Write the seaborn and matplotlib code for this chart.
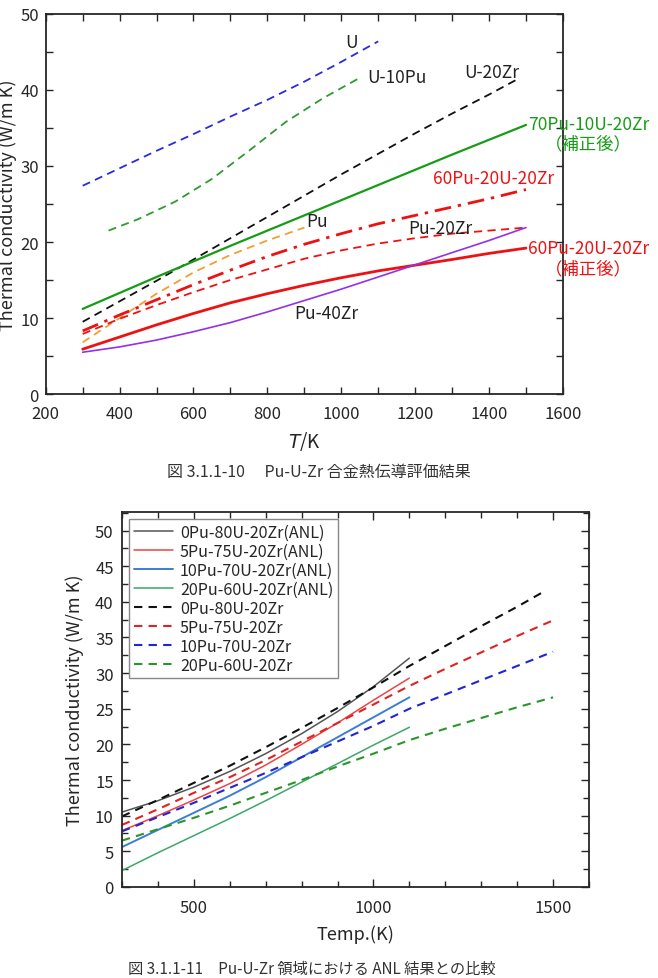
import matplotlib
matplotlib.use("Agg")
import matplotlib.pyplot as plt
import seaborn as sns
from matplotlib.ticker import MultipleLocator

# ---- upper chart: Pu-U-Zr alloy thermal conductivity (W/m K) vs T (K)
T_U = [300, 400, 500, 600, 700, 800, 900, 1000, 1100]
k_U = [27.4, 29.7, 32.0, 34.2, 36.5, 38.7, 41.1, 43.7, 46.4]

T_U10Pu = [370, 450, 550, 650, 750, 850, 950, 1050]
k_U10Pu = [21.5, 23.0, 25.3, 28.3, 32.0, 35.8, 38.9, 41.6]

T_U20Zr = [300, 400, 500, 600, 700, 800, 900, 1000, 1100, 1200, 1300, 1400, 1480]
k_U20Zr = [9.5, 12.2, 14.9, 17.7, 20.5, 23.3, 26.1, 28.9, 31.6, 34.3, 36.9, 39.4, 41.5]

T_70Pu = [300, 500, 700, 900, 1100, 1300, 1500]
k_70Pu = [11.2, 15.4, 19.5, 23.5, 27.5, 31.5, 35.4]

T_Pu = [300, 400, 500, 600, 700, 800, 900]
k_Pu = [6.8, 10.0, 13.2, 16.0, 18.3, 20.2, 21.9]

T_full = [300, 400, 500, 600, 700, 800, 900, 1000, 1100, 1200, 1300, 1400, 1500]
k_60Pu = [8.3, 10.4, 12.4, 14.4, 16.3, 18.1, 19.7, 21.1, 22.4, 23.5, 24.6, 25.7, 26.9]
k_Pu20Zr = [7.9, 9.9, 11.7, 13.4, 15.0, 16.4, 17.8, 18.9, 19.8, 20.5, 21.1, 21.5, 21.9]
k_60Pu_corr = [5.9, 7.5, 9.1, 10.6, 12.0, 13.2, 14.3, 15.3, 16.2, 16.95, 17.7, 18.5, 19.2]
k_Pu40Zr = [5.5, 6.2, 7.1, 8.2, 9.4, 10.8, 12.3, 13.8, 15.4, 17.0, 18.6, 20.2, 21.9]

# ---- lower chart: comparison with ANL
T_anl = [300, 400, 500, 600, 700, 800, 900, 1000, 1100]
k_anl_0 = [10.5, 12.1, 14.0, 16.2, 18.7, 21.5, 24.6, 28.1, 32.1]
k_anl_5 = [7.9, 10.0, 12.2, 14.5, 17.1, 20.0, 23.0, 26.2, 29.3]
k_anl_10 = [5.6, 8.0, 10.4, 12.8, 15.4, 18.2, 21.0, 23.8, 26.6]
k_anl_20 = [2.3, 4.8, 7.2, 9.6, 12.1, 14.7, 17.3, 19.9, 22.4]

T_calc0 = [300, 400, 500, 600, 700, 800, 900, 1000, 1100, 1200, 1300, 1400, 1480]
k_calc_0 = [9.9, 12.2, 14.6, 17.0, 19.6, 22.3, 25.1, 28.0, 31.0, 33.8, 36.6, 39.3, 41.6]
T_calc = [300, 400, 500, 600, 700, 800, 900, 1000, 1100, 1200, 1300, 1400, 1500]
k_calc_5 = [8.7, 10.9, 13.2, 15.4, 17.8, 20.4, 23.0, 25.6, 28.2, 30.6, 32.9, 35.2, 37.4]
k_calc_10 = [7.8, 9.8, 11.8, 13.9, 16.0, 18.2, 20.4, 22.6, 25.0, 27.0, 29.0, 31.0, 33.0]
k_calc_20 = [6.5, 8.1, 9.7, 11.4, 13.2, 15.0, 16.9, 18.7, 20.6, 22.2, 23.7, 25.2, 26.6]

sns.set_style("ticks")
plt.rcParams['font.family'] = ['Noto Sans CJK JP', 'DejaVu Sans']

fig = plt.figure(figsize=(6.58, 9.79), dpi=100)
ax1 = fig.add_axes([0.0695, 0.5965, 0.786, 0.3882])
ax2 = fig.add_axes([0.1854, 0.0930, 0.7097, 0.3830])

GREEN = '#169c16'
RED = '#ee1111'

def line(ax, x, y, color, ls='-', lw=1.5):
    sns.lineplot(x=x, y=y, ax=ax, color=color, linestyle=ls, linewidth=lw, legend=False)

line(ax1, T_U, k_U, '#2b2bdc', (0, (4.5, 3)), 1.3)
line(ax1, T_U10Pu, k_U10Pu, '#2f9a2f', (0, (4.5, 3)), 1.3)
line(ax1, T_U20Zr, k_U20Zr, '#111111', (0, (4.5, 3)), 1.3)
line(ax1, T_70Pu, k_70Pu, GREEN, '-', 1.6)
line(ax1, T_Pu, k_Pu, '#f0a030', (0, (4.5, 3)), 1.3)
line(ax1, T_full, k_60Pu, RED, (0, (6, 2.5, 1.2, 2.5)), 2.0)
line(ax1, T_full, k_Pu20Zr, RED, (0, (4.5, 3)), 1.3)
line(ax1, T_full, k_60Pu_corr, RED, '-', 2.0)
line(ax1, T_full, k_Pu40Zr, '#9530e6', '-', 1.2)

ax1.set_xlim(200, 1600)
ax1.set_ylim(0, 50)
ax1.xaxis.set_major_locator(MultipleLocator(200))
ax1.xaxis.set_minor_locator(MultipleLocator(100))
ax1.yaxis.set_major_locator(MultipleLocator(10))
ax1.yaxis.set_minor_locator(MultipleLocator(5))
ax1.tick_params(which='both', direction='in', top=True, right=True, length=5, width=1, labelsize=12)
ax1.tick_params(axis='x', pad=8)
ax1.tick_params(axis='y', pad=5)
ax1.set_xlabel(r'$T$/K', fontsize=13.5, labelpad=5)
ax1.set_ylabel('Thermal conductivity (W/m K)', fontsize=13, labelpad=2)

txt = dict(fontsize=12.5, clip_on=False)
ax1.text(1028, 46.3, 'U', ha='center', va='center', color='#222222', **txt)
ax1.text(1150, 41.7, 'U-10Pu', ha='center', va='center', color='#222222', **txt)
ax1.text(1407, 42.4, 'U-20Zr', ha='center', va='center', color='#222222', **txt)
ax1.text(935, 22.8, 'Pu', ha='center', va='center', color='#222222', **txt)
ax1.text(1267, 21.9, 'Pu-20Zr', ha='center', va='center', color='#222222', **txt)
ax1.text(960, 10.6, 'Pu-40Zr', ha='center', va='center', color='#222222', **txt)
ax1.text(1413, 28.4, '60Pu-20U-20Zr', ha='center', va='center', color=RED, **txt)
ax1.text(1506, 35.5, '70Pu-10U-20Zr', ha='left', va='center', color=GREEN, **txt)
ax1.text(1670, 33.0, '（補正後）', ha='center', va='center', color=GREEN, **txt)
ax1.text(1506, 19.2, '60Pu-20U-20Zr', ha='left', va='center', color=RED, **txt)
ax1.text(1670, 16.6, '（補正後）', ha='center', va='center', color=RED, **txt)
for s in ax1.spines.values():
    s.set_linewidth(1.3)

fig.text(0.485, 1 - 472 / 979, '図 3.1.1-10　 Pu-U-Zr 合金熱伝導評価結果', ha='center', va='center',
         fontsize=11.5, color='#333333')

# lower chart
line(ax2, T_anl, k_anl_0, '#555555', '-', 1.1)
line(ax2, T_anl, k_anl_5, '#ee4444', '-', 1.1)
line(ax2, T_anl, k_anl_10, '#3a7ed6', '-', 1.4)
line(ax2, T_anl, k_anl_20, '#3aa86a', '-', 1.1)
line(ax2, T_calc0, k_calc_0, '#111111', (0, (4, 3)), 1.5)
line(ax2, T_calc, k_calc_5, '#e02222', (0, (4, 3)), 1.5)
line(ax2, T_calc, k_calc_10, '#2424d0', (0, (4, 3)), 1.5)
line(ax2, T_calc, k_calc_20, '#2a962a', (0, (4, 3)), 1.5)

labels = ['0Pu-80U-20Zr(ANL)', '5Pu-75U-20Zr(ANL)', '10Pu-70U-20Zr(ANL)', '20Pu-60U-20Zr(ANL)',
          '0Pu-80U-20Zr', '5Pu-75U-20Zr', '10Pu-70U-20Zr', '20Pu-60U-20Zr']
ax2.legend(ax2.lines, labels, loc='upper left', fontsize=11.6, frameon=True, fancybox=False,
           edgecolor='#888888', framealpha=1, handlelength=2.4, labelspacing=0.12,
           borderpad=0.3, borderaxespad=0.45, handletextpad=0.45)

ax2.set_xlim(300, 1600)
ax2.set_ylim(0, 52.6)
ax2.xaxis.set_major_locator(MultipleLocator(500))
ax2.xaxis.set_minor_locator(MultipleLocator(100))
ax2.yaxis.set_major_locator(MultipleLocator(5))
ax2.yaxis.set_minor_locator(MultipleLocator(2.5))
ax2.tick_params(which='major', direction='in', top=True, right=True, length=6, width=1, labelsize=12)
ax2.tick_params(which='minor', direction='in', top=True, right=True, length=4, width=1)
ax2.tick_params(axis='x', pad=9)
ax2.tick_params(axis='y', pad=6)
ax2.set_xlabel('Temp.(K)', fontsize=13, labelpad=6)
ax2.set_ylabel('Thermal conductivity (W/m K)', fontsize=13, labelpad=8)
for s in ax2.spines.values():
    s.set_linewidth(1.3)

fig.text(128 / 658, 1 - 978 / 979, '図 3.1.1-11　Pu-U-Zr 領域における ANL 結果との比較', ha='left', va='bottom',
         fontsize=11, color='#333333')

fig.savefig('out.png', dpi=100, facecolor='white')
